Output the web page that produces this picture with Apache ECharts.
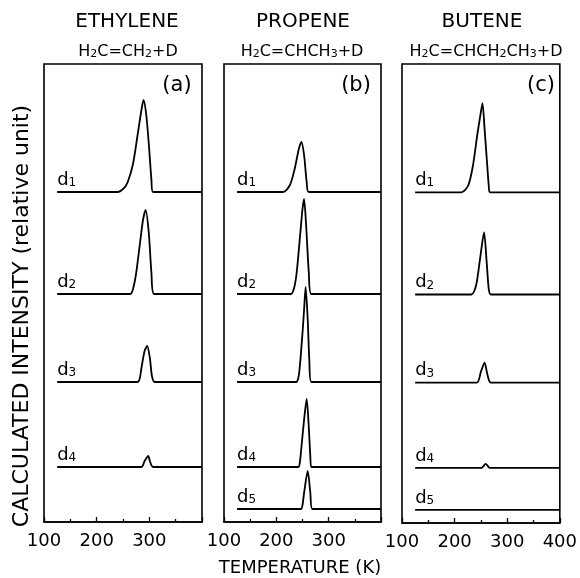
<!DOCTYPE html>
<html>
<head>
<meta charset="utf-8">
<script src="https://cdn.jsdelivr.net/npm/echarts/dist/echarts.min.js"></script>
<style>
  html, body { margin: 0; padding: 0; background: #fff; }
  #chart { width: 580px; height: 578px; }
</style>
</head>
<body>
<div id="chart"></div>
<script>
// Calculated desorption traces, [temperature (K), intensity above baseline]
const ethyleneD1 = [[240,0],[252,4],[259,10],[269,28],[278,58],[285,82],[289,92],[294,78],[299,48],[304,12],[307,0]];
const ethyleneD2 = [[264,0],[269,5],[275,21],[283,54],[288,74],[293,84],[299,61],[304,21],[309,0]];
const ethyleneD3 = [[278,0],[282,4],[285,14],[291,31],[296,36],[301,24],[305,6],[310,0]];
const ethyleneD4 = [[285,0],[291,6],[298,11],[301,6],[307,0]];

const propeneD1 = [[213,0],[226,7],[235,23],[243,43],[248,50],[253,37],[258,10],[262,0]];
const propeneD2 = [[228,0],[234,6],[239,22],[246,62],[250,85],[253,95],[257,68],[262,22],[267,0]];
const propeneD3 = [[238,0],[242,4],[245,16],[250,49],[253,72],[256,95],[260,62],[263,22],[267,0]];
const propeneD4 = [[242,0],[245,5],[248,20],[253,47],[258,68],[262,40],[265,10],[267,0]];
const propeneD5 = [[247,0],[250,4],[253,16],[260,38],[265,16],[269,0]];

const buteneD1 = [[213,0],[226,7],[235,27],[243,57],[249,77],[253,89],[257,63],[262,27],[265,6],[267,0]];
const buteneD2 = [[232,0],[237,3],[242,12],[249,38],[256,62],[261,32],[265,5],[269,0]];
const buteneD3 = [[242,0],[250,11],[257,20],[262,9],[269,0]];
const buteneD4 = [[251,0],[259,4],[267,0]];
const buteneD5 = [];

// Vertical offsets of the stacked traces d1..d5 (relative units)
const baselines = [330, 228, 140, 55, 13];
const traceStart = 125;
const traceEnd = 400;
const deuteriumIndex = ['1', '2', '3', '4', '5'];

const tempMin = 100;
const tempMax = 400;
const tickLabels = ['100', '200', '300', '400'];

const panelTitles = ['ETHYLENE', 'PROPENE', 'BUTENE'];
const panelLetters = ['(a)', '(b)', '(c)'];
const panelTraces = [
  [ethyleneD1, ethyleneD2, ethyleneD3, ethyleneD4],
  [propeneD1, propeneD2, propeneD3, propeneD4, propeneD5],
  [buteneD1, buteneD2, buteneD3, buteneD4, buteneD5]
];
const panelShowsMaxLabel = [false, false, true];

const FONT = 'DejaVu Sans';
const grids = [
  { left: 44, top: 64, width: 158, height: 458 },
  { left: 224, top: 64, width: 157, height: 458 },
  { left: 402, top: 64, width: 159, height: 459 }
];

const option = {
  animation: false,
  backgroundColor: '#fff',
  grid: grids.map(g => Object.assign({ show: true, borderColor: '#000', borderWidth: 1.6, containLabel: false }, g)),
  xAxis: grids.map((g, i) => ({
    gridIndex: i,
    type: 'value',
    min: tempMin,
    max: tempMax,
    interval: 100,
    axisLine: { show: true, lineStyle: { color: '#000', width: 1.6 } },
    axisTick: { show: true, inside: true, length: 5, lineStyle: { color: '#000', width: 1.3 } },
    minorTick: { show: true, splitNumber: 2, length: 3, lineStyle: { color: '#000', width: 1.3 } },
    splitLine: { show: false },
    minorSplitLine: { show: false },
    axisLabel: {
      color: '#000', fontSize: 18, fontFamily: FONT, margin: 10,
      showMinLabel: true, showMaxLabel: true,
      formatter: v => {
        const s = String(v);
        if (!tickLabels.includes(s)) return '';
        if (v === tempMax && !panelShowsMaxLabel[i]) return '';
        return s;
      }
    }
  })),
  yAxis: grids.map((g, i) => ({ gridIndex: i, type: 'value', min: 0, max: 458, show: false })),
  series: [],
  graphic: []
};

// Traces: flat baseline with the desorption peak on top of it
panelTraces.forEach((traces, p) => {
  traces.forEach((peak, k) => {
    const b = baselines[k];
    const data = [[traceStart, b]]
      .concat(peak.map(([t, v]) => [t, b + v]))
      .concat([[traceEnd, b]]);
    option.series.push({
      type: 'line', xAxisIndex: p, yAxisIndex: p, data,
      symbol: 'none', smooth: 0.25, silent: true,
      lineStyle: { color: '#000', width: 1.8 }
    });
  });
  // d1..d5 labels sitting on each baseline
  option.series.push({
    type: 'scatter', xAxisIndex: p, yAxisIndex: p, silent: true,
    symbolSize: 0,
    itemStyle: { color: '#000', opacity: 1 },
    data: traces.map((_, k) => [traceStart, baselines[k], deuteriumIndex[k]]),
    label: {
      show: true, position: 'top', align: 'left', distance: 3,
      color: '#000',
      formatter: prm => '{n|d}{s|' + prm.value[2] + '}',
      rich: {
        n: { fontSize: 18, fontFamily: FONT, color: '#000', verticalAlign: 'bottom' },
        s: { fontSize: 12, fontFamily: FONT, color: '#000', verticalAlign: 'bottom' }
      }
    }
  });
});

const subRich = {
  n: { fontSize: 16, fontFamily: FONT, fill: '#000', verticalAlign: 'bottom' },
  s: { fontSize: 11, fontFamily: FONT, fill: '#000', verticalAlign: 'bottom' }
};
const formulas = [
  '{n|H}{s|2}{n|C=CH}{s|2}{n|+D}',
  '{n|H}{s|2}{n|C=CHCH}{s|3}{n|+D}',
  '{n|H}{s|2}{n|C=CHCH}{s|2}{n|CH}{s|3}{n|+D}'
];
const titleX = [127, 303, 482];
const formulaX = [128, 302, 486];
const letterX = [177, 356, 541];

panelTitles.forEach((t, p) => {
  option.graphic.push({
    type: 'text', x: titleX[p], y: 22, silent: true,
    style: { text: t, font: '20px "' + FONT + '"', fill: '#000', align: 'center', verticalAlign: 'middle' }
  });
  option.graphic.push({
    type: 'text', x: formulaX[p], y: 52, silent: true,
    style: { text: formulas[p], rich: subRich, fill: '#000', align: 'center', verticalAlign: 'middle' }
  });
  option.graphic.push({
    type: 'text', x: letterX[p], y: 86, silent: true,
    style: { text: panelLetters[p], font: '21px "' + FONT + '"', fill: '#000', align: 'center', verticalAlign: 'middle' }
  });
});

option.graphic.push({
  type: 'text', x: 300, y: 568, silent: true,
  style: { text: 'TEMPERATURE (K)', font: '18px "' + FONT + '"', fill: '#000', align: 'center', verticalAlign: 'middle' }
});
option.graphic.push({
  type: 'text', x: 22, y: 316, rotation: Math.PI / 2, silent: true,
  style: { text: 'CALCULATED INTENSITY (relative unit)', font: '22px "' + FONT + '"', fill: '#000', align: 'center', verticalAlign: 'middle' }
});

const chart = echarts.init(document.getElementById('chart'), null, { renderer: 'canvas' });
chart.setOption(option);
</script>
</body>
</html>
